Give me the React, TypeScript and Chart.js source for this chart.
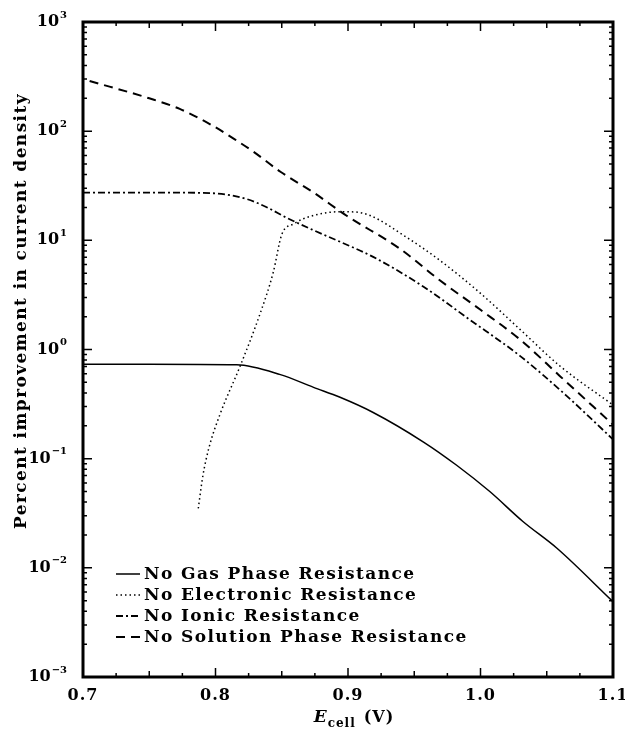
import React, { useEffect, useRef } from "react";
import { Chart, registerables } from "chart.js";

Chart.register(...registerables);

// ---- Data ----
const gasX = [0.7, 0.75, 0.816, 0.849, 0.874, 0.894, 0.919, 0.957, 0.982, 1.007, 1.032, 1.0575, 1.1];
const gasY = [0.733, 0.733, 0.725, 0.589, 0.45, 0.365, 0.265, 0.142, 0.087, 0.05, 0.0266, 0.0152, 0.0049];

const elecX = [0.787, 0.7905, 0.795, 0.8034, 0.8185, 0.8336, 0.8436, 0.85, 0.8587, 0.874, 0.894, 0.905, 0.9166, 0.944, 0.969, 1.0, 1.03, 1.06, 1.1];
const elecY = [0.035, 0.07, 0.125, 0.255, 0.7, 2.12, 5.1, 11.3, 14.1, 16.9, 18.3, 18.2, 16.9, 10.7, 6.6, 3.27, 1.52, 0.705, 0.31];

const ionicX = [0.7, 0.76, 0.798, 0.8235, 0.8386, 0.8537, 0.8738, 0.894, 0.919, 0.957, 0.992, 1.03, 1.065, 1.1];
const ionicY = [27.4, 27.4, 27, 23.9, 20.1, 16.1, 12.4, 9.7, 7.05, 3.76, 1.87, 0.87, 0.376, 0.15];

const solX = [0.705, 0.75, 0.773, 0.798, 0.816, 0.8285, 0.849, 0.874, 0.899, 0.939, 0.969, 1.0, 1.03, 1.06, 1.1];
const solY = [288, 200, 160, 112, 82, 65, 42.5, 27.4, 16.8, 8.4, 4.33, 2.31, 1.23, 0.57, 0.205];

const seriesLabels = [
  "No Gas Phase Resistance",
  "No Electronic Resistance",
  "No Ionic Resistance",
  "No Solution Phase Resistance",
];

const xTickValues = [0.7, 0.8, 0.9, 1.0, 1.1];
const xTickLabels = ["0.7", "0.8", "0.9", "1.0", "1.1"];
const yTickExponents = [3, 2, 1, 0, -1, -2, -3];

const yTitle = "Percent improvement in current density";
const xTitleMain = "E";
const xTitleSub = "cell";
const xTitleUnit = "(V)";

const SERIF = "'DejaVu Serif', serif";

function pts(xs: number[], ys: number[]) {
  return xs.map((x, i) => ({ x, y: ys[i] }));
}

function setSpacing(ctx: any, px: number) {
  if ("letterSpacing" in ctx) ctx.letterSpacing = px + "px";
}

const framePlugin = {
  id: "framePlugin",
  afterDraw(chart: any) {
    const ctx = chart.ctx;
    const ca = chart.chartArea;
    const xs = chart.scales.x;
    const ys = chart.scales.y;
    ctx.save();
    ctx.strokeStyle = "#000";
    ctx.fillStyle = "#000";

    // frame
    ctx.lineWidth = 3;
    ctx.strokeRect(ca.left, ca.top, ca.right - ca.left, ca.bottom - ca.top);

    // x ticks (inward, bottom and top)
    ctx.lineWidth = 1.5;
    for (let k = 0; k <= 16; k++) {
      const v = 0.7 + k * 0.025;
      const px = xs.getPixelForValue(v);
      const len = k % 4 === 0 ? 9 : k % 2 === 0 ? 6 : 4;
      ctx.beginPath();
      ctx.moveTo(px, ca.bottom);
      ctx.lineTo(px, ca.bottom - len);
      ctx.moveTo(px, ca.top);
      ctx.lineTo(px, ca.top + len);
      ctx.stroke();
    }
    // y ticks (inward, left and right)
    for (let e = -3; e <= 2; e++) {
      for (let m = 1; m <= 9; m++) {
        const v = m * Math.pow(10, e);
        const py = ys.getPixelForValue(v);
        const len = m === 1 ? 9 : 4;
        ctx.beginPath();
        ctx.moveTo(ca.left, py);
        ctx.lineTo(ca.left + len, py);
        ctx.moveTo(ca.right, py);
        ctx.lineTo(ca.right - len, py);
        ctx.stroke();
      }
    }

    // x tick labels
    setSpacing(ctx, 1);
    ctx.font = `bold 16px ${SERIF}`;
    ctx.textAlign = "center";
    ctx.textBaseline = "middle";
    xTickValues.forEach((v, i) => {
      ctx.fillText(xTickLabels[i], xs.getPixelForValue(v), ca.bottom + 19);
    });
    setSpacing(ctx, 0);

    // y tick labels 10^n
    yTickExponents.forEach((e) => {
      const py = ys.getPixelForValue(Math.pow(10, e));
      const expStr = e < 0 ? "\u2212" + String(-e) : String(e);
      ctx.font = `bold 10px ${SERIF}`;
      const ew = ctx.measureText(expStr).width;
      const right = ca.left - 16;
      ctx.textAlign = "left";
      ctx.textBaseline = "middle";
      ctx.fillText(expStr, right - ew, py - 7);
      ctx.font = `bold 16px ${SERIF}`;
      ctx.textAlign = "right";
      ctx.fillText("10", right - ew - 1, py);
    });

    // y title
    ctx.save();
    ctx.translate(22, 311);
    ctx.rotate(-Math.PI / 2);
    setSpacing(ctx, 1.4);
    ctx.font = `bold 17px ${SERIF}`;
    ctx.textAlign = "center";
    ctx.textBaseline = "middle";
    ctx.fillText(yTitle, 0, 0);
    ctx.restore();

    // x title: E_cell (V)
    const ty = ca.bottom + 45;
    ctx.textBaseline = "alphabetic";
    ctx.textAlign = "left";
    setSpacing(ctx, 1);
    ctx.font = `bold italic 17px ${SERIF}`;
    const wE = ctx.measureText(xTitleMain).width;
    ctx.font = `bold 12px ${SERIF}`;
    const wSub = ctx.measureText(xTitleSub).width;
    ctx.font = `bold 16px ${SERIF}`;
    const wU = ctx.measureText(xTitleUnit).width;
    const total = wE + wSub + 8 + wU;
    let tx = xs.getPixelForValue(0.9) + 6 - total / 2;
    ctx.font = `bold italic 17px ${SERIF}`;
    ctx.fillText(xTitleMain, tx, ty);
    tx += wE;
    ctx.font = `bold 12px ${SERIF}`;
    ctx.fillText(xTitleSub, tx, ty + 5);
    tx += wSub + 8;
    ctx.font = `bold 16px ${SERIF}`;
    ctx.fillText(xTitleUnit, tx, ty);

    // legend
    const datasets = chart.data.datasets;
    datasets.forEach((ds: any, i: number) => {
      const y = ca.bottom - 103 + i * 21;
      setSpacing(ctx, 0);
      ctx.beginPath();
      ctx.lineWidth = ds.borderWidth;
      ctx.setLineDash(ds.borderDash || []);
      ctx.moveTo(ca.left + 33, y);
      ctx.lineTo(ca.left + 57, y);
      ctx.stroke();
      ctx.setLineDash([]);
      setSpacing(ctx, 1.4);
      ctx.font = `bold 17px ${SERIF}`;
      ctx.textAlign = "left";
      ctx.textBaseline = "middle";
      ctx.fillText(ds.label, ca.left + 61, y + 1);
    });
    setSpacing(ctx, 0);

    ctx.restore();
  },
};

export default function App() {
  const canvasRef = useRef<HTMLCanvasElement | null>(null);

  useEffect(() => {
    document.body.style.margin = "0";
    const canvas = canvasRef.current;
    if (!canvas) return;
    const common = { pointRadius: 0, fill: false, borderColor: "#000", cubicInterpolationMode: "monotone" as const };
    const chart = new Chart(canvas, {
      type: "line",
      data: {
        datasets: [
          { ...common, label: seriesLabels[0], data: pts(gasX, gasY), borderWidth: 1.5, borderDash: [] },
          { ...common, label: seriesLabels[1], data: pts(elecX, elecY), borderWidth: 1.5, borderDash: [1.5, 3] },
          { ...common, label: seriesLabels[2], data: pts(ionicX, ionicY), borderWidth: 1.8, borderDash: [7, 3, 2, 3] },
          { ...common, label: seriesLabels[3], data: pts(solX, solY), borderWidth: 2, borderDash: [9, 6] },
        ],
      },
      options: {
        responsive: false,
        animation: false,
        layout: { padding: { left: 83, top: 22, right: 12, bottom: 56 } },
        plugins: { legend: { display: false }, tooltip: { enabled: false } },
        scales: {
          x: { type: "linear", min: 0.7, max: 1.1, display: false },
          y: { type: "logarithmic", min: 0.001, max: 1000, display: false },
        },
      },
      plugins: [framePlugin],
    });
    return () => chart.destroy();
  }, []);

  return (
    <div style={{ position: "absolute", left: 0, top: 0, width: 625, height: 733, background: "#fff" }}>
      <canvas ref={canvasRef} width={625} height={733} />
    </div>
  );
}
